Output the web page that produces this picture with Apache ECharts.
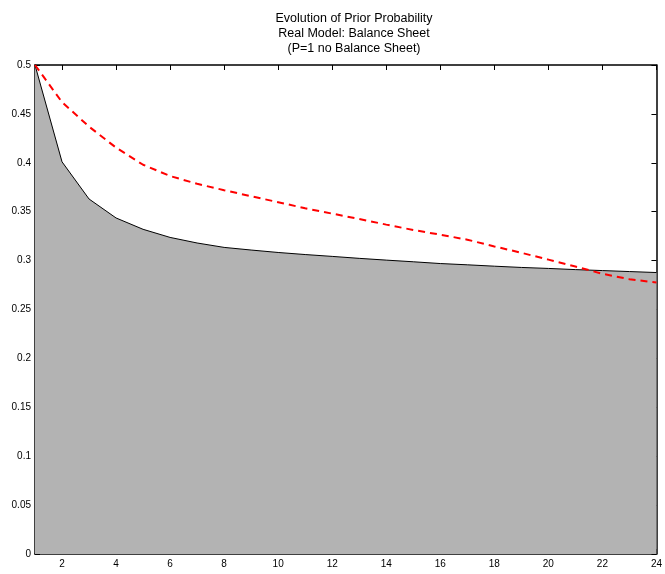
<!DOCTYPE html>
<html>
<head>
<meta charset="utf-8">
<script src="https://cdn.jsdelivr.net/npm/echarts@6/dist/echarts.min.js"></script>
<style>
html,body{margin:0;padding:0;background:#fff;}
#c{width:665px;height:574px;}
</style>
</head>
<body>
<div id="c"></div>
<script>
const titleLines = ["Evolution of Prior Probability", "Real Model: Balance Sheet", "(P=1 no Balance Sheet)"];
const periods = [1,2,3,4,5,6,7,8,9,10,11,12,13,14,15,16,17,18,19,20,21,22,23,24];
const realModel = [0.5,0.401,0.363,0.3436,0.332,0.3237,0.318,0.3135,0.3108,0.3083,0.3062,0.3043,0.3023,0.3005,0.2988,0.297,0.2957,0.2943,0.293,0.292,0.2908,0.2898,0.2888,0.2878];
const noBalanceSheet = [0.5,0.462,0.437,0.4155,0.398,0.3865,0.3785,0.372,0.3658,0.3597,0.3535,0.348,0.3426,0.3368,0.3313,0.3265,0.3214,0.3145,0.308,0.301,0.294,0.2865,0.281,0.2775];
const xTicks = [2,4,6,8,10,12,14,16,18,20,22,24];

const font = 'Liberation Sans, Arial, Helvetica, sans-serif';
const chart = echarts.init(document.getElementById('c'), null, {renderer:'canvas'});
const axLine = {show:true, onZero:false, lineStyle:{color:'#000', width:1.5}};
const tickIn = {show:true, inside:true, length:5, lineStyle:{color:'#000', width:1}};
chart.setOption({
  animation:false,
  backgroundColor:'#fff',
  title:{
    text:titleLines.join('\n'),
    left:349, top:6, textAlign:'center',
    textStyle:{fontFamily:font, fontSize:12.5, fontWeight:'normal', color:'#000', lineHeight:15}
  },
  grid:{left:35, right:5, top:65, bottom:20, containLabel:false},
  xAxis:[
    {type:'value', min:1, max:24, position:'bottom',
     axisLine:axLine, axisTick:Object.assign({customValues:xTicks}, tickIn),
     axisLabel:{customValues:xTicks, color:'#000', fontFamily:font, fontSize:10, margin:5},
     splitLine:{show:false}},
    {type:'value', min:1, max:24, position:'top',
     axisLine:axLine, axisTick:Object.assign({customValues:xTicks}, tickIn),
     axisLabel:{show:false}, splitLine:{show:false}}
  ],
  yAxis:[
    {type:'value', min:0, max:0.5, interval:0.05, position:'left',
     axisLine:axLine, axisTick:tickIn,
     axisLabel:{color:'#000', fontFamily:font, fontSize:10, margin:4},
     splitLine:{show:false}},
    {type:'value', min:0, max:0.5, interval:0.05, position:'right',
     axisLine:axLine, axisTick:tickIn,
     axisLabel:{show:false}, splitLine:{show:false}}
  ],
  series:[
    {type:'line', xAxisIndex:0, yAxisIndex:0,
     data:periods.map((p,i)=>[p, realModel[i]]),
     symbol:'none', lineStyle:{color:'#000', width:1},
     areaStyle:{color:'#b3b3b3', opacity:1}, z:2},
    {type:'line', xAxisIndex:0, yAxisIndex:0,
     data:periods.map((p,i)=>[p, noBalanceSheet[i]]),
     symbol:'none', lineStyle:{color:'#ff0000', width:2, type:[7,5]}, z:3}
  ]
});
</script>
</body>
</html>
